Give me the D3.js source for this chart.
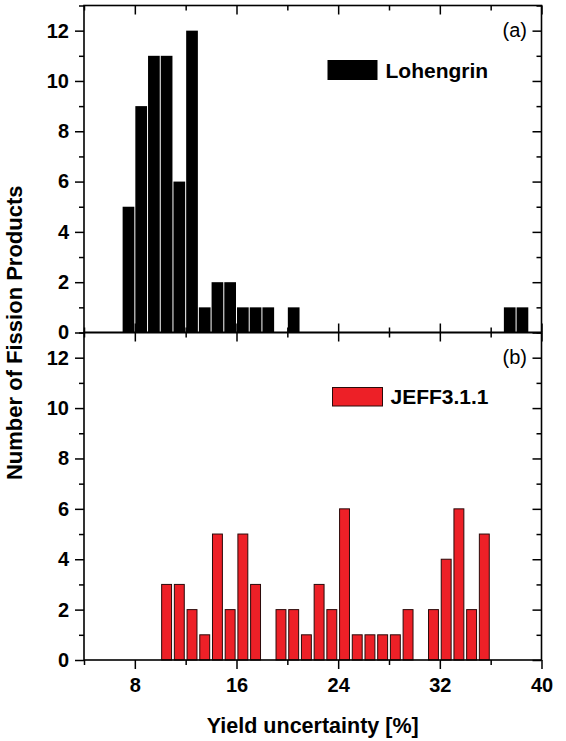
<!DOCTYPE html>
<html>
<head>
<meta charset="utf-8">
<script src="https://cdn.jsdelivr.net/npm/d3@7"></script>
<style>
  html, body { margin: 0; padding: 0; background: #fff; }
  svg { display: block; }
  text { font-family: "Liberation Sans", Arial, Helvetica, sans-serif; }
</style>
</head>
<body>
<script>
// Histogram bins: lower edge of each 1 % wide bin and the count in it
const lohengrinBins   = [7, 8, 9, 10, 11, 12, 13, 14, 15, 16, 17, 18, 20, 37, 38];
const lohengrinCounts = [5, 9, 11, 11, 6, 12, 1, 2, 2, 1, 1, 1, 1, 1, 1];

const jeffBins   = [10, 11, 12, 13, 14, 15, 16, 17, 19, 20, 21, 22, 23, 24, 25, 26, 27, 28, 29, 31, 32, 33, 34, 35];
const jeffCounts = [3, 3, 2, 1, 5, 2, 5, 3, 2, 2, 1, 3, 2, 6, 1, 1, 1, 1, 2, 2, 4, 6, 2, 5];

const binWidth = 1;

const xDomain = [4, 40];
const xMajorTicks = [8, 16, 24, 32, 40];
const xMinorTicks = [4, 12, 20, 28, 36];
const yDomain = [0, 13];
const yMajorTicks = [0, 2, 4, 6, 8, 10, 12];
const yMinorTicks = [1, 3, 5, 7, 9, 11, 13];

const panelNames = ["Lohengrin", "JEFF3.1.1"];
const panelTags = ["(a)", "(b)"];
const xTitle = "Yield uncertainty [%]";
const yTitle = "Number of Fission Products";

const W = 566, H = 741;
const left = 84, right = 541.5;
const top1 = 5.5, mid = 332.5, bottom2 = 660;

const svg = d3.select("body").append("svg")
  .attr("width", W).attr("height", H)
  .attr("viewBox", `0 0 ${W} ${H}`);

const x = d3.scaleLinear().domain(xDomain).range([left, right]);
const yTop = d3.scaleLinear().domain(yDomain).range([mid, top1]);
const yBot = d3.scaleLinear().domain(yDomain).range([bottom2, mid]);

const FONT = '"Liberation Sans", Arial, Helvetica, sans-serif';

function styleAxis(g) {
  g.select(".domain").remove();
  g.selectAll(".tick line").attr("stroke", "#000").attr("stroke-width", 1.5);
  g.selectAll(".tick text")
    .attr("fill", "#000")
    .style("font-family", FONT)
    .style("font-weight", "bold")
    .style("font-size", "20px");
}

function drawPanel(y, bins, counts, opts) {
  const g = svg.append("g");

  // bars
  const data = bins.map((b, i) => ({ b, c: counts[i] }));
  const inset = opts.inset;
  g.selectAll("rect.bar").data(data).join("rect")
    .attr("class", "bar")
    .attr("x", d => x(d.b) + inset)
    .attr("width", d => x(d.b + binWidth) - x(d.b) - 2 * inset)
    .attr("y", d => y(d.c))
    .attr("height", d => y(0) - y(d.c))
    .attr("fill", opts.fill)
    .attr("stroke", opts.stroke)
    .attr("stroke-width", opts.strokeWidth);

  // left axis: outward ticks, labels on even counts
  g.append("g").attr("transform", `translate(${left},0)`)
    .call(d3.axisLeft(y).tickValues(yMinorTicks).tickSize(5).tickFormat(""))
    .call(styleAxis);
  g.append("g").attr("transform", `translate(${left},0)`)
    .call(d3.axisLeft(y).tickValues(yMajorTicks).tickSize(9).tickPadding(6).tickFormat(d3.format("d")))
    .call(styleAxis);

  // right axis: inward ticks
  g.append("g").attr("transform", `translate(${right},0)`)
    .call(d3.axisRight(y).tickValues(yMinorTicks).tickSize(-5).tickFormat(""))
    .call(styleAxis);
  g.append("g").attr("transform", `translate(${right},0)`)
    .call(d3.axisRight(y).tickValues(yMajorTicks).tickSize(-9).tickFormat(""))
    .call(styleAxis);

  // top edge: inward ticks
  const yt = y.range()[1], yb = y.range()[0];
  g.append("g").attr("transform", `translate(0,${yt})`)
    .call(d3.axisTop(x).tickValues(xMinorTicks).tickSize(-5).tickFormat(""))
    .call(styleAxis);
  g.append("g").attr("transform", `translate(0,${yt})`)
    .call(d3.axisTop(x).tickValues(xMajorTicks).tickSize(-9).tickFormat(""))
    .call(styleAxis);

  // bottom edge
  if (opts.bottomLabels) {
    g.append("g").attr("transform", `translate(0,${yb})`)
      .call(d3.axisBottom(x).tickValues(xMinorTicks).tickSize(5).tickFormat(""))
      .call(styleAxis);
    g.append("g").attr("transform", `translate(0,${yb})`)
      .call(d3.axisBottom(x).tickValues(xMajorTicks).tickSize(9).tickPadding(9).tickFormat(d3.format("d")))
      .call(styleAxis);
  } else {
    g.append("g").attr("transform", `translate(0,${yb})`)
      .call(d3.axisBottom(x).tickValues(xMinorTicks).tickSize(-5).tickFormat(""))
      .call(styleAxis);
    g.append("g").attr("transform", `translate(0,${yb})`)
      .call(d3.axisBottom(x).tickValues(xMajorTicks).tickSize(-9).tickFormat(""))
      .call(styleAxis);
  }

  // frame
  g.append("rect")
    .attr("x", left).attr("y", yt)
    .attr("width", right - left).attr("height", yb - yt)
    .attr("fill", "none").attr("stroke", "#000").attr("stroke-width", 1.6);

  // legend
  g.append("rect")
    .attr("x", opts.legX).attr("y", opts.legY)
    .attr("width", 50).attr("height", opts.legH)
    .attr("fill", opts.fill)
    .attr("stroke", opts.stroke).attr("stroke-width", opts.strokeWidth);
  g.append("text")
    .attr("x", opts.legX + 58).attr("y", opts.legBase)
    .style("font-size", "21px").style("font-weight", "bold")
    .attr("fill", "#000")
    .text(opts.name);

  // panel tag
  g.append("text")
    .attr("x", 527).attr("y", y(12)).attr("dy", "0.34em")
    .attr("text-anchor", "end")
    .style("font-size", "20px")
    .attr("fill", "#000")
    .text(opts.tag);
}

drawPanel(yTop, lohengrinBins, lohengrinCounts, {
  fill: "#000", stroke: "none", strokeWidth: 0, inset: 0.5,
  legX: 327.5, legY: 60, legH: 20, legBase: 77.5,
  name: panelNames[0], tag: panelTags[0], bottomLabels: false
});

drawPanel(yBot, jeffBins, jeffCounts, {
  fill: "#ed2027", stroke: "#2a0a0a", strokeWidth: 1, inset: 1.4,
  legX: 332.5, legY: 387.5, legH: 18.5, legBase: 404,
  name: panelNames[1], tag: panelTags[1], bottomLabels: true
});

// axis titles
svg.append("text")
  .attr("x", (left + right) / 2).attr("y", 732.5)
  .attr("text-anchor", "middle")
  .style("font-size", "21.5px").style("font-weight", "bold")
  .text(xTitle);

svg.append("text")
  .attr("transform", `translate(22,${(top1 + bottom2) / 2}) rotate(-90)`)
  .attr("text-anchor", "middle")
  .style("font-size", "22px").style("font-weight", "bold")
  .text(yTitle);
</script>
</body>
</html>
